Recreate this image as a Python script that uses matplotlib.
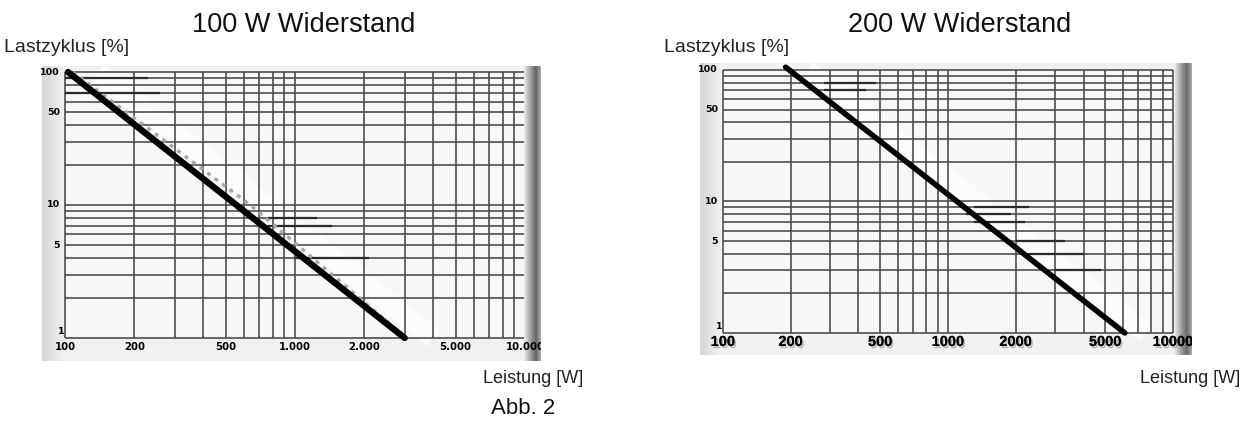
import numpy as np
import matplotlib
matplotlib.use("Agg")
import matplotlib.pyplot as plt
import matplotlib.patheffects as pe
from matplotlib.patches import Rectangle
from matplotlib.transforms import offset_copy

W, H = 1249, 423

# ---------------- data ----------------
left_title = "100 W Widerstand"
right_title = "200 W Widerstand"
y_label = "Lastzyklus [%]"
x_label = "Leistung [W]"
fig_label = "Abb. 2"

x_grid = [100, 200, 300, 400, 500, 600, 700, 800, 900,
          1000, 2000, 3000, 4000, 5000, 6000, 7000, 8000, 9000, 10000]
y_grid = [1, 2, 3, 4, 5, 6, 7, 8, 9, 10, 20, 30, 40, 50, 60, 70, 80, 90, 100]

x_ticks = [100, 200, 500, 1000, 2000, 5000, 10000]
left_xticklabels = ["100", "200", "500", "1.000", "2.000", "5.000", "10.000"]
right_xticklabels = ["100", "200", "500", "1000", "2000", "5000", "10000"]
y_ticks = [100, 50, 10, 5]
y_ticklabels = ["100", "50", "10", "5"]

# 100 W curve
left_power = [103, 3000]
left_duty = [100, 1]
left_dotted_power = [108, 640, 3050]
left_dotted_duty = [100, 10, 1]
# 200 W curve
right_power = [190, 6100]
right_duty = [105, 1]

# darker partial grid segments (scan artefacts): (duty, from W, to W)
left_segments = [(90, 100, 230), (70, 100, 260), (8, 760, 1250), (7, 760, 1450), (4, 1000, 2100)]
right_segments = [(80, 280, 480), (70, 280, 430), (9, 1300, 2300), (8, 1200, 1900),
                  (7, 1300, 2200), (5, 2000, 3300), (4, 2200, 4000), (3, 3000, 4800)]

fig = plt.figure(figsize=(W / 100, H / 100), dpi=100)
fig.patch.set_facecolor("white")


def add_px_axes(x0, x1, y0, y1):
    return fig.add_axes([x0 / W, 1 - y1 / H, (x1 - x0) / W, (y1 - y0) / H])


def hgrad(ax, x0, x1, c0, c1, z, n=24):
    c0 = np.array(matplotlib.colors.to_rgb(c0))
    c1 = np.array(matplotlib.colors.to_rgb(c1))
    w = (x1 - x0) / n
    for i in range(n):
        t = i / (n - 1)
        col = c0 * (1 - t) + c1 * t
        ax.add_patch(Rectangle((x0 + i * w, 0), w * 1.08, 1, transform=ax.transAxes,
                               facecolor=col, edgecolor="none", lw=0, zorder=z))


def panel(ax, xlim, ylim, xlabels, tick_font, tick_size, shadow_text, segments,
          lw_main, dotted, shadow_frac, white_band, p, d):
    ax.set_xscale("log")
    ax.set_yscale("log")
    ax.set_xlim(*xlim)
    ax.set_ylim(*ylim)
    ax.set_facecolor("#f1f1f1")
    for s in ax.spines.values():
        s.set_visible(False)
    ax.set_xticks([])
    ax.set_yticks([])
    ax.minorticks_off()

    # left light gradient + right dark shadow
    hgrad(ax, 0.0, 0.045, "#d6d6d6", "#f1f1f1", 0.5)
    hgrad(ax, 1 - shadow_frac, 1 - shadow_frac * 0.3, "#ececec", "#6a6a6a", 10)
    hgrad(ax, 1 - shadow_frac * 0.3, 1.0, "#6a6a6a", "#a8a8a8", 10, n=8)

    # inner plotting area slightly lighter
    ax.add_patch(Rectangle((x_grid[0], y_grid[0]), x_grid[-1] - x_grid[0], y_grid[-1] - y_grid[0],
                           facecolor="#f7f7f7", edgecolor="none", zorder=0.6))

    # white highlight band
    ax.plot(white_band[0], white_band[1], color="white", lw=15, alpha=0.75,
            solid_capstyle="butt", zorder=0.8)

    # grid
    ax.vlines(x_grid, y_grid[0], y_grid[-1], colors="#474747", lw=1.15, zorder=2)
    ax.hlines(y_grid, x_grid[0], x_grid[-1], colors="#474747", lw=1.15, zorder=2)
    for (yv, xa, xb) in segments:
        ax.hlines(yv, xa, xb, colors="#2a2a2a", lw=1.6, zorder=2.1)

    # curves
    if dotted is not None:
        ax.plot(dotted[0], dotted[1], color="#a8a8a8", lw=2.4, ls=(0, (1.2, 1.6)),
                zorder=3)
    ax.plot(p, d, color="black", lw=lw_main, solid_capstyle="round", zorder=4)

    # tick labels
    tx = offset_copy(ax.transData, fig=fig, x=0, y=-9, units="dots")
    for v, lab in zip(x_ticks, xlabels):
        t = ax.text(v, y_grid[0], lab, transform=tx, ha="center", va="center",
                    fontsize=tick_size, fontweight="bold", family=tick_font,
                    clip_on=True, zorder=11)
        if shadow_text:
            t.set_path_effects([pe.withSimplePatchShadow(offset=(1.2, -1.6),
                                                         shadow_rgbFace="#808080",
                                                         alpha=0.5), pe.Normal()])
    ty = offset_copy(ax.transData, fig=fig, x=-5, y=0, units="dots")
    for v, lab in zip(y_ticks, y_ticklabels):
        ax.text(x_grid[0], v, lab, transform=ty, ha="right", va="center",
                fontsize=6.8, fontweight="bold", family="DejaVu Sans", zorder=5)
    t1 = offset_copy(ax.transData, fig=fig, x=-4, y=6, units="dots")
    ax.text(x_grid[0], y_grid[0], "1", transform=t1, ha="center", va="center",
            fontsize=6.8, fontweight="bold", family="DejaVu Sans", zorder=5)


axL = add_px_axes(42, 541, 66, 361)
axR = add_px_axes(700, 1192, 63, 355)

panel(axL, (79.4, 11750), (0.671, 111), left_xticklabels, "DejaVu Sans", 7.3, False,
      left_segments, 4.6, (left_dotted_power, left_dotted_duty), 17 / 499,
      ([140, 4000], [100, 1]), left_power, left_duty)
panel(axR, (79.1, 12130), (0.68, 113), right_xticklabels, "Liberation Sans", 10.5, True,
      right_segments, 4.0, None, 18 / 492,
      ([235, 7600], [100, 1]), right_power, right_duty)


# texts
def ftext(x, y, s, **kw):
    fig.text(x / W, 1 - y / H, s, **kw)


ftext(304, 25, left_title, ha="center", va="center", fontsize=19.5, family="Liberation Sans",
      color="#111111")
ftext(960, 25, right_title, ha="center", va="center", fontsize=19.5, family="Liberation Sans",
      color="#111111")
ftext(4, 48, y_label, ha="left", va="center", fontsize=14, family="Liberation Sans",
      color="#222222")
ftext(664, 48, y_label, ha="left", va="center", fontsize=14, family="Liberation Sans",
      color="#222222")
ftext(583, 378, x_label, ha="right", va="center", fontsize=13, family="Liberation Sans",
      color="#222222")
ftext(1240, 378, x_label, ha="right", va="center", fontsize=13, family="Liberation Sans",
      color="#222222")
ftext(523, 408, fig_label, ha="center", va="center", fontsize=16, family="Liberation Sans",
      color="#111111")

fig.savefig("out.png", dpi=100, facecolor="white")
